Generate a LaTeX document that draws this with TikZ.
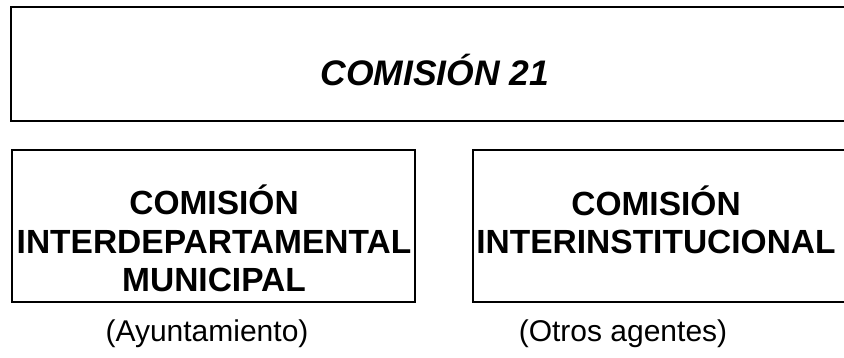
\documentclass[tikz,border=0pt]{standalone}
\usepackage{fontspec}
\setmainfont{Liberation Sans}
\begin{document}
\begin{tikzpicture}[x=1pt,y=-1pt,
  boxline/.style={draw=black,line width=1.6pt},
  bigtitle/.style={font=\fontsize{35.5}{42}\selectfont\bfseries\itshape,inner sep=0pt},
  boxtext/.style={font=\fontsize{33.5}{38.5}\selectfont\bfseries,align=center,inner sep=0pt},
  labeltext/.style={font=\fontsize{30}{35}\selectfont,inner sep=0pt}]
\useasboundingbox (0,0) rectangle (844,357);
\draw[boxline] (11,7) rectangle (852,121);
\draw[boxline] (12,150) rectangle (415,302);
\draw[boxline] (473,150) rectangle (852,302);
\node[bigtitle] (t) at (435,70) {COMISIÓN 21};
\node[boxtext] (l) at (214,238.5) {COMISIÓN\\INTERDEPARTAMENTAL\\MUNICIPAL};
\node[boxtext] (r) at (656,220) {COMISIÓN\\INTERINSTITUCIONAL};
\node[labeltext] (la) at (207,334) {(Ayuntamiento)};
\node[labeltext] (ra) at (623,334) {(Otros agentes)};
\end{tikzpicture}
\end{document}
